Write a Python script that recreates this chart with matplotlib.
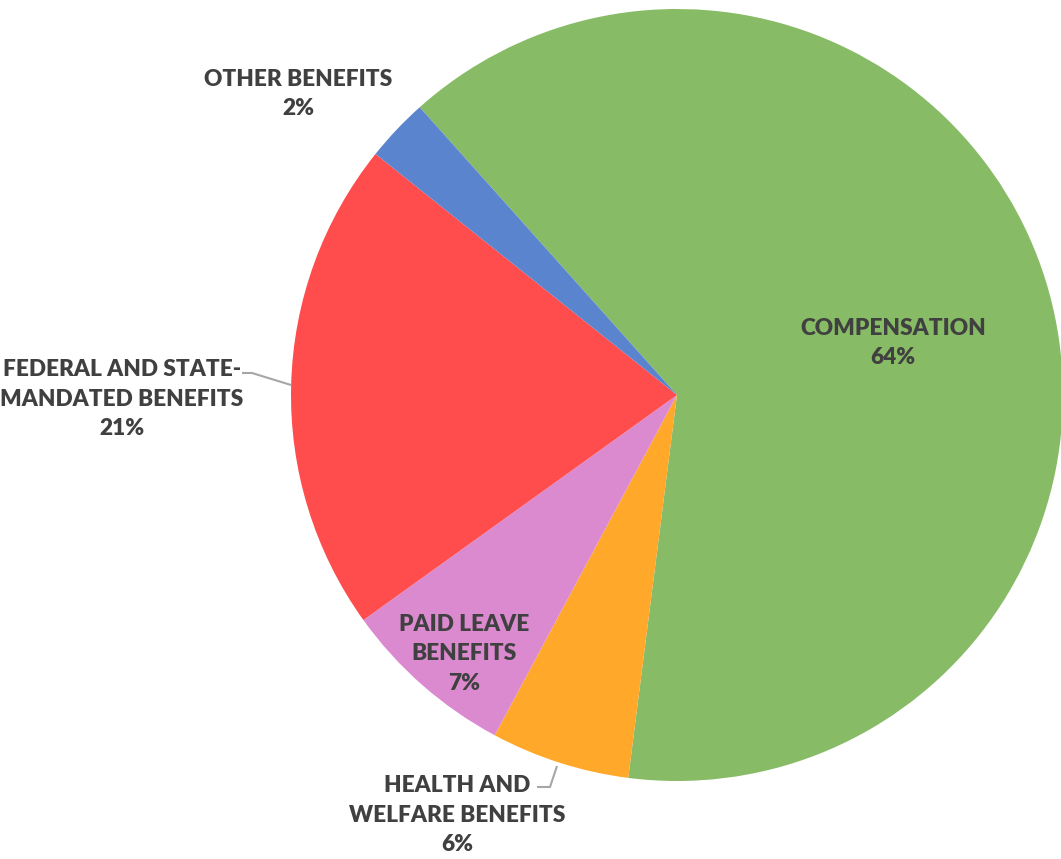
import matplotlib
matplotlib.use("Agg")
import matplotlib.pyplot as plt

categories = ["COMPENSATION", "HEALTH AND\nWELFARE BENEFITS", "PAID LEAVE\nBENEFITS",
              "FEDERAL AND STATE-\nMANDATED BENEFITS", "OTHER BENEFITS"]
values = [63.5, 5.8, 7.25, 20.6, 2.65]
pct_labels = ["64%", "6%", "7%", "21%", "2%"]
colors = ["#87BB66", "#FFA82A", "#DC8AD0", "#FF4C4C", "#5B84CE"]

W, H = 1061, 859
fig = plt.figure(figsize=(W / 100, H / 100), dpi=100)
ax = fig.add_axes([0, 0, 1, 1])

cx, cy, r = 677, H - 395, 386
ax.pie(values, colors=colors, startangle=131.8, counterclock=False,
       center=(cx, cy), radius=r, frame=True,
       wedgeprops=dict(linewidth=0))
ax.set_xlim(0, W)
ax.set_ylim(0, H)
ax.set_aspect("equal")
ax.axis("off")

# label positions (pixel coords, y from top)
label_pos = [(893, 343), (457, 815), (464, 654), (122, 399), (298, 94)]
fkw = dict(fontfamily="Lato", fontweight="heavy", fontsize=16.3, color="#404040",
           ha="center", va="center", linespacing=1.5)
for cat, pct, (x, y) in zip(categories, pct_labels, label_pos):
    ax.text(x, H - y, cat + "\n" + pct, **fkw)

# leader lines
lc = "#A6A6A6"
ax.plot([242, 252, 291], [H - 373, H - 373, H - 385], color=lc, lw=1.5, solid_capstyle="butt")
ax.plot([537, 550, 557], [H - 787, H - 787, H - 766], color=lc, lw=1.5, solid_capstyle="butt")

fig.savefig("out.png", dpi=100, facecolor="white")
